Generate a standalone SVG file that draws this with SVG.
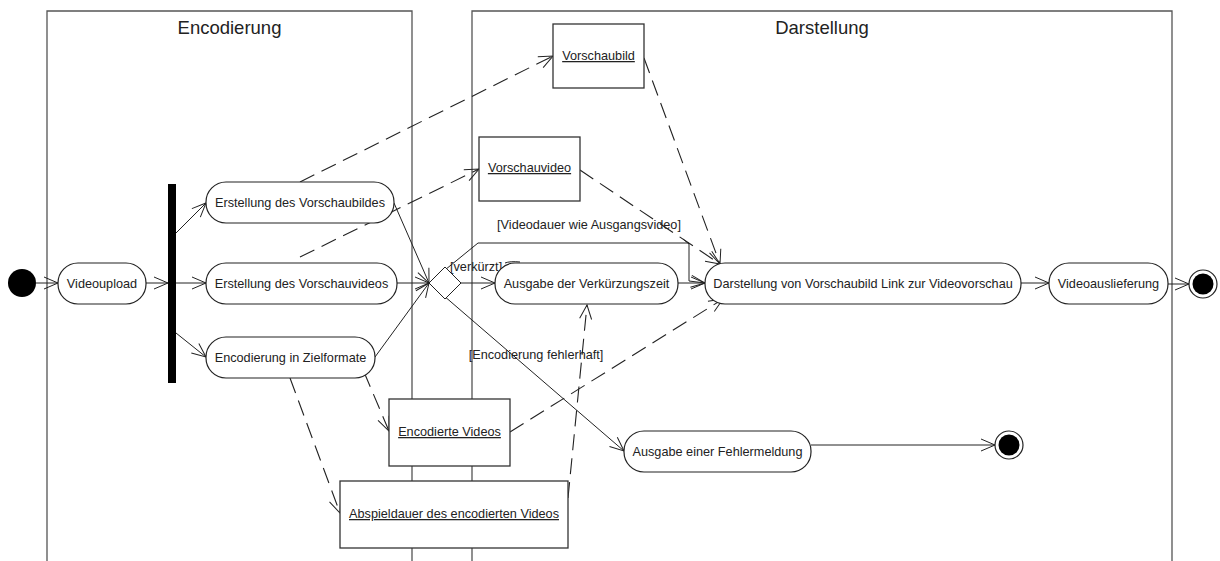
<svg xmlns="http://www.w3.org/2000/svg" width="1220" height="561" viewBox="0 0 1220 561">
<style>
  .lane{fill:none;stroke:#555;stroke-width:1.3}
  .title{font-family:"Liberation Sans",Arial,sans-serif;font-size:18.5px;fill:#222;text-anchor:middle}
  .act{fill:#fff;stroke:#222;stroke-width:1.2}
  .obj{fill:#fff;stroke:#333;stroke-width:1.3}
  .t{font-family:"Liberation Sans",Arial,sans-serif;font-size:12.7px;fill:#222;text-anchor:middle}
  .u{text-decoration:underline}
  .lbl{font-family:"Liberation Sans",Arial,sans-serif;font-size:12.7px;fill:#222}
  .c{fill:none;stroke:#222;stroke-width:1}
  .d{fill:none;stroke:#222;stroke-width:1.1;stroke-dasharray:16 8}
</style>
<defs>
  <marker id="ar" markerUnits="userSpaceOnUse" markerWidth="16" markerHeight="14" refX="14" refY="7" orient="auto" overflow="visible">
    <path d="M0,1 L14,7 L0,13" fill="none" stroke="#222" stroke-width="1"/>
  </marker>
</defs>
<rect width="1220" height="561" fill="#fff"/>

<g id="lane-encodierung">
  <path class="lane" d="M47,561 V11 H412 V561"/>
  <text class="title" x="229.5" y="34">Encodierung</text>
</g>
<g id="lane-darstellung">
  <path class="lane" d="M472,561 V11 H1172 V561"/>
  <text class="title" x="822" y="34">Darstellung</text>
</g>

<g id="connectors">
  <line class="c" x1="36" y1="283" x2="58" y2="283" marker-end="url(#ar)"/>
  <line class="c" x1="146" y1="283" x2="168" y2="283" marker-end="url(#ar)"/>
  <line class="c" x1="176" y1="233" x2="206" y2="203" marker-end="url(#ar)"/>
  <line class="c" x1="176" y1="283" x2="206" y2="283" marker-end="url(#ar)"/>
  <line class="c" x1="176" y1="333" x2="206" y2="357" marker-end="url(#ar)"/>
  <line class="c" x1="394" y1="203" x2="429" y2="283" marker-end="url(#ar)"/>
  <line class="c" x1="397" y1="283" x2="429" y2="283" marker-end="url(#ar)"/>
  <line class="c" x1="375" y1="357" x2="429" y2="283" marker-end="url(#ar)"/>
  <line class="c" x1="461" y1="283" x2="495" y2="283" marker-end="url(#ar)"/>
  <polyline class="c" points="429,283 478,243 689,243 689,281 705,283" marker-end="url(#ar)"/>
  <line class="c" x1="678" y1="283" x2="705" y2="283" marker-end="url(#ar)"/>
  <line class="c" x1="429" y1="283" x2="624" y2="451" marker-end="url(#ar)"/>
  <line class="c" x1="1021" y1="283" x2="1049" y2="283" marker-end="url(#ar)"/>
  <line class="c" x1="1168" y1="284" x2="1189" y2="284" marker-end="url(#ar)"/>
  <line class="c" x1="811" y1="445" x2="995" y2="445" marker-end="url(#ar)"/>
  <line class="c" x1="683" y1="239" x2="689" y2="244"/>
  <path class="c" d="M505,263 Q510,261 520,262"/>
  <line class="d" x1="300" y1="182" x2="553" y2="56" marker-end="url(#ar)"/>
  <line class="d" x1="300" y1="257" x2="479" y2="169" marker-end="url(#ar)"/>
  <line class="d" x1="644" y1="58" x2="720" y2="264" marker-end="url(#ar)"/>
  <line class="d" x1="580" y1="170" x2="720" y2="264" marker-end="url(#ar)"/>
  <line class="d" x1="510" y1="432" x2="723" y2="299" marker-end="url(#ar)"/>
  <line class="d" x1="364" y1="372" x2="389" y2="431" marker-end="url(#ar)"/>
  <line class="d" x1="290" y1="378" x2="340" y2="513" marker-end="url(#ar)"/>
  <line class="d" x1="568" y1="498" x2="587" y2="305" marker-end="url(#ar)"/>
  <text class="lbl" x="450" y="271">[verkürzt]</text>
  <text class="t" x="589" y="229">[Videodauer wie Ausgangsvideo]</text>
  <text class="t" x="536" y="359">[Encodierung fehlerhaft]</text>
</g>

<g id="start"><circle cx="22" cy="283" r="14" fill="#000"/></g>
<g id="videoupload"><rect class="act" x="58" y="263" width="88" height="41" rx="20"/><text class="t" x="102" y="288">Videoupload</text></g>
<g id="fork"><rect x="168" y="184" width="8" height="199" fill="#000"/></g>
<g id="vorschaubildes"><rect class="act" x="206" y="182" width="188" height="41" rx="20"/><text class="t" x="300" y="207">Erstellung des Vorschaubildes</text></g>
<g id="vorschauvideos"><rect class="act" x="206" y="263" width="191" height="41" rx="20"/><text class="t" x="301.5" y="288">Erstellung des Vorschauvideos</text></g>
<g id="zielformate"><rect class="act" x="206" y="337" width="169" height="41" rx="20"/><text class="t" x="290.5" y="362">Encodierung in Zielformate</text></g>
<g id="decision"><path d="M429,283 L445,267 L461,283 L445,299 Z" fill="#fff" stroke="#222" stroke-width="1"/></g>
<g id="verkuerzung"><rect class="act" x="495" y="263" width="183" height="41" rx="20"/><text class="t" x="586.5" y="288">Ausgabe der Verkürzungszeit</text></g>
<g id="darstellung"><rect class="act" x="705" y="263" width="316" height="41" rx="20"/><text class="t" x="863" y="288">Darstellung von Vorschaubild Link zur Videovorschau</text></g>
<g id="videoauslieferung"><rect class="act" x="1049" y="263" width="119" height="41" rx="20"/><text class="t" x="1108.5" y="288">Videoauslieferung</text></g>
<g id="end"><circle cx="1203" cy="284" r="14" fill="#fff" stroke="#222" stroke-width="1.2"/><circle cx="1203" cy="284" r="10.5" fill="#000"/></g>
<g id="fehlermeldung"><rect class="act" x="624" y="431" width="187" height="41" rx="20"/><text class="t" x="717.5" y="456">Ausgabe einer Fehlermeldung</text></g>
<g id="end-fehler"><circle cx="1009" cy="445" r="14" fill="#fff" stroke="#222" stroke-width="1.2"/><circle cx="1009" cy="445" r="10.5" fill="#000"/></g>
<g id="obj-vorschaubild"><rect class="obj" x="553" y="24" width="91" height="64"/><text class="t u" x="598.5" y="60">Vorschaubild</text></g>
<g id="obj-vorschauvideo"><rect class="obj" x="479" y="137" width="101" height="64"/><text class="t u" x="529.5" y="172">Vorschauvideo</text></g>
<g id="obj-encodierte"><rect class="obj" x="389" y="399" width="121" height="67"/><text class="t u" x="449.5" y="436">Encodierte Videos</text></g>
<g id="obj-abspieldauer"><rect class="obj" x="340" y="481" width="228" height="67"/><text class="t u" x="454" y="518">Abspieldauer des encodierten Videos</text></g>
</svg>
